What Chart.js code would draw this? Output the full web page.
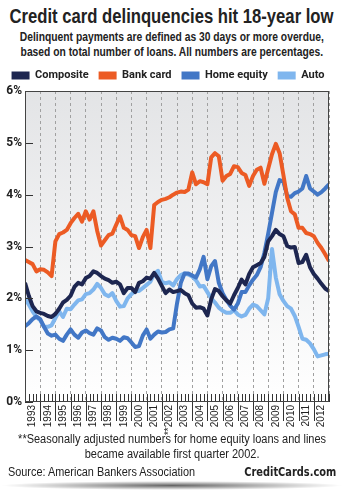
<!DOCTYPE html>
<html>
<head>
<meta charset="utf-8">
<script src="https://cdn.jsdelivr.net/npm/chart.js@4.4.0/dist/chart.umd.min.js"></script>
<style>
  html, body { margin: 0; padding: 0; background: #fff; }
  body { width: 344px; height: 493px; position: relative; overflow: hidden; font-family: "Liberation Sans", Arial, sans-serif; color: #222; }
  .row { position: absolute; left: -200px; width: 744px; text-align: center; white-space: nowrap; }
  .fit { display: inline-block; transform-origin: center top; }
  #title { top: 4px; font-size: 20px; line-height: 24px; font-weight: bold; }
  #subtitle { top: 29px; font-size: 13px; line-height: 15px; font-weight: bold; }
  #chartBox { position: absolute; left: 0; top: 60px; width: 344px; height: 379px; }
  #note { top: 432px; font-size: 12px; line-height: 15px; }
  #source { position: absolute; left: 8px; top: 465px; font-size: 12px; white-space: nowrap; transform-origin: left top; }
  #brand { position: absolute; right: 8px; top: 465px; font-size: 12px; font-weight: bold; white-space: nowrap;
    font-family: "DejaVu Sans", sans-serif; transform-origin: right top; }
  #shadow { position: absolute; left: 0; top: 481px; width: 344px; height: 9px;
    background: radial-gradient(ellipse at center, rgba(0,0,0,0.6) 0%, rgba(0,0,0,0) 70%); }
</style>
</head>
<body>
<div class="row" id="title"><span class="fit" id="titleText">Credit card delinquencies hit 18-year low</span></div>
<div class="row" id="subtitle"><span class="fit" id="subText">Delinquent payments are defined as 30 days or more overdue,<br>based on total number of loans. All numbers are percentages.</span></div>
<div id="chartBox"><canvas id="delinquencyChart"></canvas></div>
<div class="row" id="note"><span class="fit" id="noteText">**Seasonally adjusted numbers for home equity loans and lines<br>became available first quarter 2002.</span></div>
<div id="source">Source: American Bankers Association</div>
<div id="brand">CreditCards.com</div>
<div id="shadow"></div>
<script>
// Quarterly delinquency rates (%), 1993 Q1 onward
const years = [1993, 1994, 1995, 1996, 1997, 1998, 1999, 2000, 2001, 2002,
  2003, 2004, 2005, 2006, 2007, 2008, 2009, 2010, 2011, 2012];

const composite = [2.30, 2.05, 1.85, 1.75, 1.72, 1.70, 1.66, 1.64, 1.70, 1.80,
  1.92, 1.97, 2.05, 2.22, 2.30, 2.27, 2.39, 2.43, 2.52, 2.49,
  2.43, 2.38, 2.35, 2.30, 2.32, 2.27, 2.10, 2.20, 2.20, 2.12,
  2.30, 2.33, 2.40, 2.38, 2.49, 2.38, 2.24, 2.10, 2.17, 2.12,
  2.14, 2.16, 2.10, 2.06, 1.90, 1.82, 1.83, 1.80, 1.67, 1.98,
  2.18, 2.14, 2.04, 1.96, 1.90, 2.06, 2.20, 2.36, 2.27, 2.47,
  2.60, 2.64, 2.68, 2.80, 3.10, 3.20, 3.32, 3.24, 3.20, 3.01,
  2.98, 2.99, 2.68, 2.70, 2.84, 2.60, 2.47, 2.38, 2.28, 2.19, 2.14];

const bankCard = [2.74, 2.70, 2.66, 2.52, 2.56, 2.55, 2.50, 2.43, 3.10, 3.24,
  3.27, 3.32, 3.45, 3.55, 3.63, 3.48, 3.68, 3.52, 3.68, 3.30,
  3.02, 3.12, 3.22, 3.25, 3.42, 3.58, 3.36, 3.32, 3.22, 3.20,
  2.97, 3.18, 3.32, 2.97, 3.80, 3.86, 3.90, 3.92, 3.95, 4.00,
  4.04, 4.06, 4.05, 4.10, 4.43, 4.20, 4.26, 4.24, 4.20, 4.72,
  4.80, 4.74, 4.27, 4.36, 4.40, 4.55, 4.53, 4.42, 4.38, 4.17,
  4.36, 4.48, 4.52, 4.21, 4.50, 4.78, 4.98, 4.80, 4.38, 3.94,
  3.68, 3.62, 3.36, 3.36, 3.26, 3.24, 3.20, 3.07, 2.97, 2.85, 2.72];

const homeEquity = [1.46, 1.52, 1.60, 1.65, 1.60, 1.45, 1.32, 1.28, 1.30, 1.22,
  1.18, 1.30, 1.40, 1.30, 1.24, 1.34, 1.38, 1.33, 1.30, 1.42,
  1.38, 1.25, 1.20, 1.24, 1.22, 1.18, 1.25, 1.23, 1.15, 1.06,
  1.08, 1.28, 1.40, 1.22, 1.30, 1.36, 1.34, 1.35, 1.40, 1.42,
  1.90, 2.30, 2.48, 2.48, 2.44, 2.40, 2.56, 2.80, 2.37, 2.62,
  2.72, 2.30, 2.10, 1.97, 1.86, 1.78, 1.90, 2.12, 2.12, 2.25,
  2.36, 2.45, 2.60, 2.88, 3.25, 3.65, 4.05, 4.28, 4.25, 3.98,
  3.96, 4.03, 4.06, 4.12, 4.36, 4.12, 4.06, 4.00, 4.05, 4.12, 4.20];

const auto = [2.00, 1.88, 1.75, 1.64, 1.58, 1.45, 1.45, 1.48, 1.62, 1.75,
  1.64, 1.80, 1.79, 1.88, 1.96, 1.98, 2.08, 2.10, 2.17, 2.28,
  2.20, 2.08, 2.04, 2.10, 1.95, 1.84, 1.85, 2.00, 2.08, 2.14,
  2.14, 2.20, 2.26, 2.32, 2.47, 2.53, 2.32, 2.29, 2.31, 2.25,
  2.37, 2.45, 2.48, 2.46, 2.42, 2.35, 2.23, 2.24, 2.12, 2.00,
  1.92, 1.82, 1.76, 1.72, 1.72, 1.77, 1.69, 1.65, 1.68, 1.80,
  1.88, 1.85, 1.77, 1.69, 2.00, 2.95, 2.40, 2.08, 1.95, 1.85,
  1.80, 1.66, 1.45, 1.22, 1.20, 1.13, 1.02, 0.88, 0.90, 0.92, 0.93];

const yTicks = [0, 1, 2, 3, 4, 5, 6];

const quarterX = composite.map((_, i) => years[0] + i / 4);
const toPoints = (arr) => arr.map((v, i) => ({ x: quarterX[i], y: v }));

const boldFont = "Roboto, 'Liberation Sans', sans-serif";

// squeeze html text to the reference widths (condensed face)
function fitWidth(id, target) {
  const el = document.getElementById(id);
  const w = el.getBoundingClientRect().width;
  el.style.transform = "scaleX(" + (target / w) + ")";
}
fitWidth("titleText", 324);
fitWidth("subText", 304);
fitWidth("noteText", 308);
fitWidth("source", 187);
fitWidth("brand", 92);

// background gradient, border, inside ticks, year separators
const plotDecor = {
  id: "plotDecor",
  beforeDraw(chart) {
    const { ctx, chartArea: a } = chart;
    const g = ctx.createLinearGradient(0, a.top, 0, a.bottom);
    g.addColorStop(0, "#e3e4e6");
    g.addColorStop(1, "#ffffff");
    ctx.save();
    ctx.fillStyle = g;
    ctx.fillRect(a.left, a.top, a.right - a.left, a.bottom - a.top);
    ctx.restore();
  },
  afterDraw(chart) {
    const { ctx, chartArea: a, scales } = chart;
    const x = scales.x, y = scales.y;
    ctx.save();
    ctx.strokeStyle = "#333";
    ctx.lineWidth = 1;
    ctx.beginPath();
    // quarter ticks along the bottom
    for (let q = x.min; q <= x.max + 0.001; q += 0.25) {
      const px = Math.round(x.getPixelForValue(q)) + 0.5;
      ctx.moveTo(px, a.bottom - 8);
      ctx.lineTo(px, a.bottom);
    }
    // year separators under the axis
    years.slice(1).forEach((yr) => {
      const px = Math.round(x.getPixelForValue(yr)) + 0.5;
      ctx.moveTo(px, a.bottom);
      ctx.lineTo(px, a.bottom + 19);
    });
    // y ticks inside the plot
    yTicks.forEach((v) => {
      const py = Math.round(y.getPixelForValue(v)) + 0.5;
      ctx.moveTo(a.left, py);
      ctx.lineTo(a.left + 8, py);
    });
    ctx.stroke();
    ctx.strokeStyle = "#444";
    ctx.strokeRect(a.left + 0.5, a.top + 0.5, a.right - a.left - 1, a.bottom - a.top - 1);
    ctx.restore();
  },
};

const ctx = document.getElementById("delinquencyChart").getContext("2d");
new Chart(ctx, {
  type: "line",
  data: {
    datasets: [
      { label: "Composite", data: toPoints(composite), borderColor: "#1d2650", backgroundColor: "#1d2650" },
      { label: "Bank card", data: toPoints(bankCard), borderColor: "#ec5b24", backgroundColor: "#ec5b24" },
      { label: "Home equity", data: toPoints(homeEquity), borderColor: "#4277c6", backgroundColor: "#4277c6" },
      { label: "Auto", data: toPoints(auto), borderColor: "#7fb6ee", backgroundColor: "#7fb6ee" },
    ],
  },
  options: {
    responsive: true,
    maintainAspectRatio: false,
    animation: false,
    layout: { padding: { top: 0, right: 8, left: 0, bottom: 0 } },
    elements: {
      line: { borderWidth: 4, tension: 0, borderJoinStyle: "round", borderCapStyle: "butt" },
      point: { radius: 0 },
    },
    scales: {
      x: {
        type: "linear",
        min: years[0],
        max: years[years.length - 1] + 1,
        afterBuildTicks: (scale) => {
          const t = [];
          years.forEach((yr) => {
            t.push({ value: yr });
            t.push({ value: yr + 0.5 });
          });
          t.push({ value: years[years.length - 1] + 1 });
          scale.ticks = t;
        },
        afterFit: (scale) => { scale.height = 37; },
        ticks: {
          autoSkip: false,
          maxRotation: 90,
          minRotation: 90,
          padding: 3,
          color: "#222",
          font: { family: "'Liberation Sans', Arial, sans-serif", size: 10 },
          callback: (v) => {
            if (v % 1 !== 0.5) return "";
            const yr = Math.floor(v);
            return yr === 2002 ? "**2002" : String(yr);
          },
        },
        grid: {
          drawTicks: false,
          color: (c) => (c.tick && c.tick.value % 1 === 0 ? "#a0a0a0" : "rgba(0,0,0,0)"),
          lineWidth: 1,
        },
        border: { display: false, dash: [3, 3] },
      },
      y: {
        min: 0,
        max: 6,
        afterFit: (scale) => { scale.width = 25; },
        afterBuildTicks: (scale) => { scale.ticks = yTicks.map((v) => ({ value: v })); },
        ticks: {
          padding: 3,
          color: "#222",
          font: { family: boldFont, size: 12, weight: "bold" },
          callback: (v) => v + "%",
        },
        grid: { display: false, drawTicks: false },
        border: { display: false },
      },
    },
    plugins: {
      legend: {
        position: "top",
        labels: {
          boxWidth: 18,
          boxHeight: 8,
          padding: 10,
          color: "#222",
          font: { family: boldFont, size: 11, weight: "bold" },
          generateLabels: (chart) =>
            Chart.defaults.plugins.legend.labels.generateLabels(chart).map((l) => ({ ...l, lineWidth: 0 })),
        },
      },
      tooltip: { enabled: false },
    },
  },
  plugins: [plotDecor],
});
</script>
</body>
</html>
